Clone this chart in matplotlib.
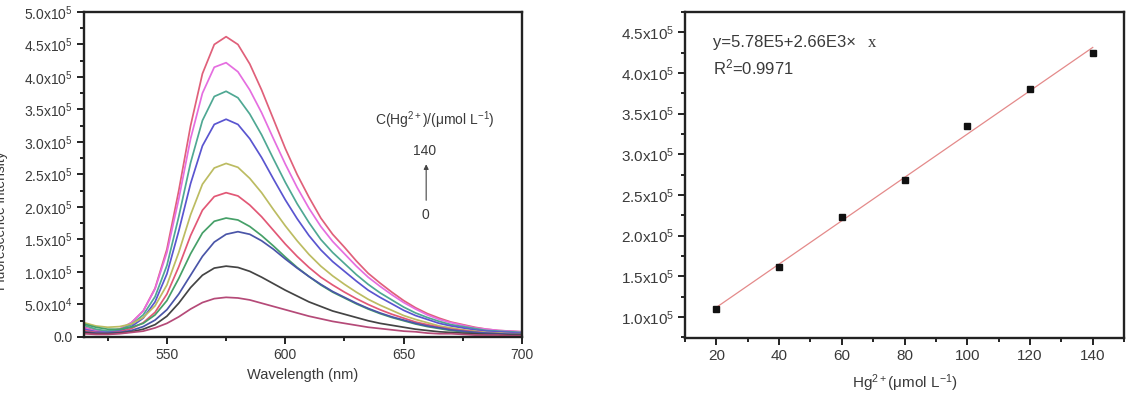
import numpy as np
import matplotlib
matplotlib.use("Agg")
import matplotlib.pyplot as plt
from matplotlib.ticker import MultipleLocator, FuncFormatter

plt.rcParams['font.family'] = ['Liberation Sans', 'DejaVu Sans']
plt.rcParams['mathtext.fontset'] = 'custom'
plt.rcParams['mathtext.rm'] = 'Liberation Sans'
plt.rcParams['mathtext.it'] = 'Liberation Sans:italic'
plt.rcParams['mathtext.bf'] = 'Liberation Sans:bold'

# emission spectra, intensity in units of 1e5, every 5 nm from 515 to 700
wavelength = np.arange(515, 701, 5)
conc_labels = ['140', '0']

spec_140 = [0.15, 0.10, 0.09, 0.12, 0.22, 0.40, 0.75, 1.35, 2.25, 3.25, 4.05, 4.50, 4.62, 4.50, 4.20, 3.80, 3.35, 2.90, 2.50,
            2.15, 1.83, 1.58, 1.38, 1.17, 0.98, 0.83, 0.69, 0.56, 0.45, 0.36, 0.29, 0.23, 0.19, 0.15, 0.12, 0.10, 0.09, 0.08]
spec_120 = [0.14, 0.09, 0.08, 0.12, 0.22, 0.40, 0.74, 1.30, 2.12, 3.05, 3.75, 4.15, 4.22, 4.08, 3.80, 3.45, 3.05, 2.66, 2.30,
            1.98, 1.70, 1.47, 1.28, 1.09, 0.92, 0.78, 0.65, 0.53, 0.43, 0.34, 0.27, 0.22, 0.18, 0.14, 0.12, 0.10, 0.09, 0.08]
spec_100 = [0.18, 0.12, 0.09, 0.11, 0.19, 0.34, 0.62, 1.10, 1.85, 2.68, 3.33, 3.70, 3.78, 3.68, 3.43, 3.11, 2.74, 2.38, 2.05,
            1.76, 1.50, 1.30, 1.13, 0.96, 0.81, 0.68, 0.57, 0.46, 0.37, 0.30, 0.24, 0.19, 0.16, 0.13, 0.10, 0.09, 0.08, 0.07]
spec_80 = [0.12, 0.08, 0.07, 0.09, 0.16, 0.29, 0.54, 0.97, 1.63, 2.36, 2.94, 3.27, 3.35, 3.27, 3.05, 2.76, 2.43, 2.11, 1.82,
           1.56, 1.34, 1.16, 1.01, 0.86, 0.72, 0.61, 0.51, 0.41, 0.33, 0.27, 0.21, 0.17, 0.14, 0.11, 0.09, 0.08, 0.07, 0.06]
spec_60 = [0.22, 0.17, 0.15, 0.16, 0.20, 0.30, 0.48, 0.80, 1.30, 1.88, 2.35, 2.60, 2.67, 2.61, 2.44, 2.22, 1.96, 1.71, 1.48,
           1.27, 1.09, 0.94, 0.81, 0.69, 0.58, 0.49, 0.41, 0.33, 0.27, 0.22, 0.17, 0.14, 0.11, 0.09, 0.07, 0.06, 0.05, 0.05]
spec_40 = [0.10, 0.07, 0.06, 0.08, 0.13, 0.22, 0.38, 0.66, 1.08, 1.56, 1.95, 2.16, 2.22, 2.17, 2.03, 1.85, 1.64, 1.43, 1.24,
           1.07, 0.92, 0.80, 0.69, 0.59, 0.50, 0.42, 0.35, 0.29, 0.23, 0.19, 0.15, 0.12, 0.10, 0.08, 0.06, 0.05, 0.05, 0.04]
spec_30 = [0.20, 0.15, 0.12, 0.12, 0.15, 0.21, 0.34, 0.56, 0.90, 1.28, 1.60, 1.78, 1.83, 1.80, 1.70, 1.56, 1.40, 1.23, 1.07,
           0.93, 0.80, 0.69, 0.60, 0.51, 0.43, 0.36, 0.30, 0.25, 0.20, 0.16, 0.13, 0.10, 0.08, 0.07, 0.05, 0.05, 0.04, 0.04]
spec_20 = [0.08, 0.06, 0.06, 0.07, 0.10, 0.16, 0.26, 0.42, 0.66, 0.95, 1.24, 1.46, 1.58, 1.62, 1.58, 1.48, 1.35, 1.20, 1.06,
           0.93, 0.81, 0.70, 0.61, 0.52, 0.44, 0.37, 0.31, 0.26, 0.21, 0.17, 0.14, 0.11, 0.09, 0.07, 0.06, 0.05, 0.04, 0.04]
spec_10 = [0.07, 0.05, 0.05, 0.06, 0.08, 0.12, 0.19, 0.32, 0.52, 0.76, 0.95, 1.06, 1.09, 1.07, 1.01, 0.92, 0.82, 0.72, 0.63,
           0.54, 0.47, 0.40, 0.35, 0.30, 0.25, 0.21, 0.18, 0.15, 0.12, 0.10, 0.08, 0.07, 0.06, 0.05, 0.04, 0.04, 0.03, 0.03]
spec_0 = [0.05, 0.04, 0.04, 0.05, 0.07, 0.09, 0.14, 0.21, 0.31, 0.43, 0.53, 0.59, 0.61, 0.60, 0.57, 0.52, 0.47, 0.42, 0.37,
          0.32, 0.28, 0.24, 0.21, 0.18, 0.15, 0.13, 0.11, 0.09, 0.08, 0.06, 0.05, 0.05, 0.04, 0.03, 0.03, 0.03, 0.02, 0.02]

spectra = [spec_140, spec_120, spec_100, spec_80, spec_60, spec_40, spec_30, spec_20, spec_10, spec_0]
colors = ['#e0607a', '#e56ee0', '#4fa893', '#5a55d0', '#bcbc62', '#e25876', '#46a068', '#4a55a8', '#444444', '#b54a78']

# calibration points
hg_conc = [20, 40, 60, 80, 100, 120, 140]
intensity = [1.10e5, 1.61e5, 2.23e5, 2.68e5, 3.35e5, 3.80e5, 4.24e5]

txt = '#3a3a3a'


def sci_fmt(v, pos):
    if abs(v) < 1:
        return '0.0'
    e = int(np.floor(np.log10(abs(v))))
    m = v / 10 ** e
    return '%.1fx10$^{%d}$' % (m, e)


def style_axes(ax, fs):
    for s in ax.spines.values():
        s.set_linewidth(1.7)
        s.set_color('#222222')
    ax.tick_params(which='both', direction='out', top=False, right=False,
                   colors='#222222', labelcolor=txt, labelsize=fs, width=1.4)
    ax.tick_params(which='major', length=5, pad=3)
    ax.tick_params(which='minor', length=3)


fig = plt.figure(figsize=(11.31, 3.94), dpi=100)

# left: spectra
ax1 = fig.add_axes([0.0743, 0.1447, 0.3873, 0.8249])
for y, c in zip(spectra, colors):
    ax1.plot(wavelength, np.array(y) * 1e5, color=c, lw=1.25)
ax1.set_xlim(515, 700)
ax1.set_ylim(0, 5e5)
ax1.xaxis.set_major_locator(MultipleLocator(50))
ax1.xaxis.set_minor_locator(MultipleLocator(25))
ax1.yaxis.set_major_locator(MultipleLocator(0.5e5))
ax1.yaxis.set_minor_locator(MultipleLocator(0.25e5))
ax1.yaxis.set_major_formatter(FuncFormatter(sci_fmt))
style_axes(ax1, 10)
ax1.set_xlabel('Wavelength (nm)', fontsize=10.5, color=txt, labelpad=4)
fig.text(0.001, 0.44, 'Fluorescence intensity', rotation=90, ha='center', va='center',
         fontsize=10, color=txt)

ax1.text(663, 3.34e5, 'C(Hg$^{2+}$)/(μmol L$^{-1}$)', ha='center', va='center', fontsize=10, color=txt)
ax1.text(659, 2.86e5, conc_labels[0], ha='center', va='center', fontsize=10, color=txt)
ax1.text(659, 1.88e5, conc_labels[1], ha='center', va='center', fontsize=10, color=txt)
ax1.annotate('', xy=(659.5, 2.70e5), xytext=(659.5, 2.06e5),
             arrowprops=dict(arrowstyle='-|>', color='#444444', lw=0.8, mutation_scale=7))

# right: calibration
ax2 = fig.add_axes([0.6057, 0.1421, 0.3882, 0.8274])
k, b = np.polyfit(hg_conc, intensity, 1)
xs = np.array([hg_conc[0], hg_conc[-1]])
ax2.plot(xs, k * xs + b, color='#e48a8a', lw=0.9)
ax2.plot(hg_conc, intensity, 's', color='#111111', ms=4)
ax2.set_xlim(10, 150)
ax2.set_ylim(0.74e5, 4.75e5)
ax2.xaxis.set_major_locator(MultipleLocator(20))
ax2.xaxis.set_minor_locator(MultipleLocator(10))
ax2.yaxis.set_major_locator(MultipleLocator(0.5e5))
ax2.yaxis.set_minor_locator(MultipleLocator(0.25e5))
ax2.yaxis.set_major_formatter(FuncFormatter(sci_fmt))
style_axes(ax2, 11)
ax2.set_xlabel('Hg$^{2+}$(μmol L$^{-1}$)', fontsize=11, color=txt, labelpad=7)
ax2.text(0.063, 0.905, 'y=5.78E5+2.66E3×', transform=ax2.transAxes, fontsize=12, color=txt, va='center')
ax2.text(0.417, 0.905, 'x', transform=ax2.transAxes, fontsize=12, color=txt, va='center',
         family='Liberation Serif')
ax2.text(0.063, 0.831, 'R$^{2}$=0.9971', transform=ax2.transAxes, fontsize=12, color=txt, va='center')

fig.savefig('out.png', dpi=100)
